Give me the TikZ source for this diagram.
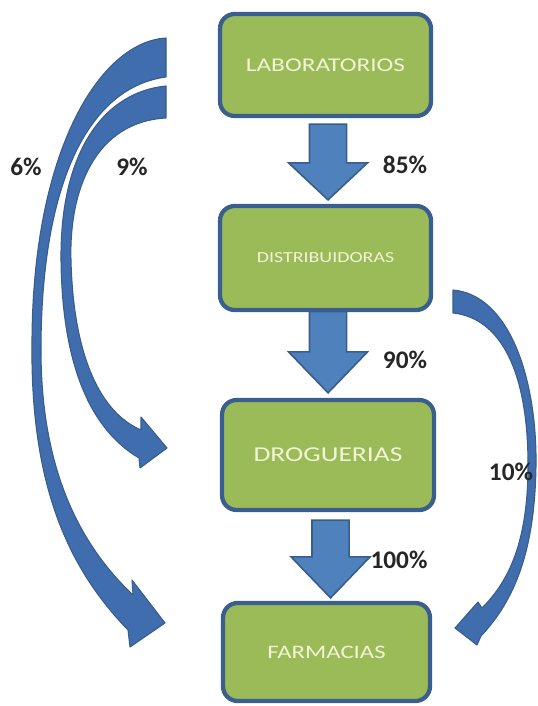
\documentclass[tikz,border=0pt]{standalone}
\usepackage{fontspec}
\setmainfont{Carlito}
\usetikzlibrary{calc}
\definecolor{boxgreen}{HTML}{9BBB59}
\definecolor{boxblue}{HTML}{3A5F8E}
\definecolor{arrowfill}{HTML}{4F81BD}
\definecolor{arrowedge}{HTML}{385D8A}
\definecolor{curvefill}{HTML}{3F6DAE}
\definecolor{txtcream}{HTML}{F1F4D6}
\newcommand\downblock[5]{%
  \draw[blockarrow] let \p1=(#1.south), \p2=(#2.north) in
    (\x1-12pt,\y1-#3) -- (\x1+15.8pt,\y1-#3) -- (\x1+15.8pt,\y2+#4+#5) --
    (\x1+31.5pt,\y2+#4+#5) -- (\x1+1.9pt,\y2+#4) -- (\x1-27.7pt,\y2+#4+#5) --
    (\x1-12pt,\y2+#4+#5) -- cycle;}
\begin{document}
\begin{tikzpicture}[x=0.75pt,y=-0.75pt,
  stagebox/.style={draw=boxblue, line width=3.2pt, fill=boxgreen, rounded corners=11pt,
    inner sep=0pt, text=txtcream},
  blockarrow/.style={fill=arrowfill, draw=arrowedge, line width=1.2pt, line join=miter},
  curvearrow/.style={fill=curvefill, draw=arrowedge, line width=0.8pt, line join=round},
  pct/.style={font=\fontsize{19}{22}\selectfont\bfseries, text=black!85, inner sep=0pt}]
\useasboundingbox (0,0) rectangle (537,706);

\node[stagebox, minimum width=158.25pt, minimum height=76.5pt] (lab) at (325.5,65)
  {\fontsize{14.6}{16}\selectfont\scalebox{1.3}[1]{LABORATORIOS}};
\node[stagebox, minimum width=158.25pt, minimum height=78pt] (dist) at (325.5,258)
  {\fontsize{11.5}{13}\selectfont\scalebox{1.3}[1]{DISTRIBUIDORAS}};
\node[stagebox, minimum width=159pt, minimum height=82.5pt] (drog) at (328,455)
  {\fontsize{15.9}{18}\selectfont\scalebox{1.3}[1]{DROGUERIAS}};
\node[stagebox, minimum width=155.25pt, minimum height=73.5pt] (farm) at (326.5,652)
  {\fontsize{14.3}{16}\selectfont\scalebox{1.3}[1]{FARMACIAS}};

\downblock{lab}{dist}{4.5pt}{3pt}{27.75pt}
\downblock{dist}{drog}{-0.5pt}{3.75pt}{30.75pt}
\downblock{drog}{farm}{6pt}{2.25pt}{30.75pt}

% curved arrow LABORATORIOS -> FARMACIAS (6%)
\filldraw[curvearrow] (166,38) .. controls (100,42) and (33,150) .. (32,340)
  .. controls (30,480) and (65,565) .. (128,630)
  -- (130,647) -- (165,623) -- (132,580) -- (133,595)
  .. controls (80,545) and (41,470) .. (41,350)
  .. controls (41,190) and (85,88) .. (166,77) -- cycle;

% curved arrow LABORATORIOS -> DROGUERIAS (9%)
\filldraw[curvearrow] (166,86) .. controls (105,92) and (60,150) .. (61,260)
  .. controls (62,360) and (88,428) .. (139,458)
  -- (140,468) -- (167,448) -- (141,417) -- (141,430)
  .. controls (95,410) and (73,345) .. (71,260)
  .. controls (69,190) and (95,122) .. (166,118) -- cycle;

% curved arrow DISTRIBUIDORAS -> FARMACIAS (10%)
\filldraw[curvearrow] (453,290) .. controls (510,295) and (537,380) .. (536,465)
  .. controls (535,550) and (515,600) .. (481,636)
  -- (477,645) -- (455,628) -- (478,602) -- (482,608)
  .. controls (510,580) and (528,540) .. (528,465)
  .. controls (528,370) and (500,318) .. (453,313) -- cycle;

\node[pct] (p85) at (405,165) {85\%};
\node[pct] (p90) at (405,360) {90\%};
\node[pct] (p100) at (399,560) {100\%};
\node[pct] (p10) at (511,472) {10\%};
\node[pct] (p6) at (26,167) {6\%};
\node[pct] (p9) at (132,167) {9\%};
\end{tikzpicture}
\end{document}
